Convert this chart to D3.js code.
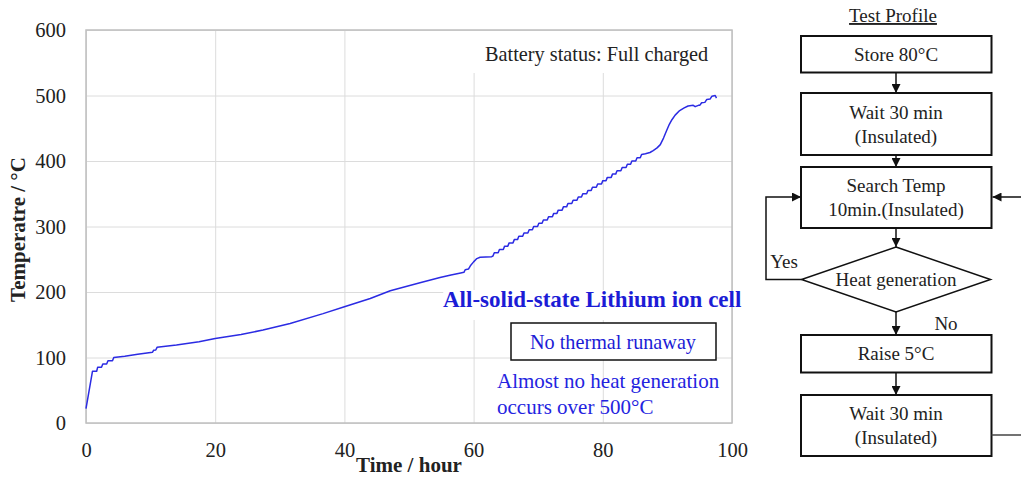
<!DOCTYPE html>
<html>
<head>
<meta charset="utf-8">
<script src="https://cdn.jsdelivr.net/npm/d3@7"></script>
<style>
  body { margin: 0; background: #fff; }
  text { font-family: "Liberation Serif", "Times New Roman", serif; }
</style>
</head>
<body>
<div id="chart"></div>
<script>
// temperature log, [hour, degC]
const readings = [
    [0, 22], [1.0, 79], [1.65, 79], [1.8, 85], [2.4, 85], [2.6, 90], [3.2, 90], [3.4, 95],
    [4.1, 95], [4.3, 100], [6, 102], [8, 105], [10.3, 108], [10.45, 111], [10.8, 111.5],
    [11.0, 115.5], [14, 119], [17.5, 124], [20, 129], [24, 135], [27.4, 142], [31.6, 152],
    [36.7, 167], [40, 177.5], [44, 190], [47.1, 202], [51.7, 214], [54.8, 222], [56.5, 226],
    [58.0, 229], [58.5, 230], [58.7, 234], [59.2, 235], [59.5, 240], [60.0, 246], [60.5, 251],
    [61.0, 253], [62.8, 254], [63.0, 255],
    [63.2, 260], [63.8, 260], [64.0, 265], [64.6, 265], [64.8, 270], [65.3, 270], [65.5, 275],
    [66.1, 275], [66.3, 280], [66.8, 280], [67.0, 285], [67.6, 285], [67.8, 290], [68.4, 290],
    [68.6, 295], [69.1, 295], [69.3, 300], [69.9, 300], [70.1, 305], [70.6, 305], [70.8, 310],
    [71.4, 310], [71.6, 315], [72.2, 315], [72.4, 320], [72.9, 320], [73.1, 325], [73.7, 325],
    [73.9, 330], [74.4, 330], [74.6, 335], [75.2, 335], [75.4, 340], [76.0, 340], [76.2, 345],
    [76.7, 345], [76.9, 350], [77.5, 350], [77.7, 355], [78.2, 355], [78.4, 360], [79.0, 360],
    [79.2, 365], [79.8, 365], [80.0, 370], [80.5, 370], [80.7, 375], [81.3, 375], [81.5, 380],
    [82.0, 380], [82.2, 385], [82.8, 385], [83.0, 390], [83.6, 390], [83.8, 395], [84.3, 395],
    [84.5, 400], [85.1, 400], [85.3, 405], [85.8, 405], [86.0, 410], [86.6, 411],
    [87.3, 413], [87.8, 416], [88.4, 420], [88.9, 425], [89.4, 435], [89.9, 447], [90.3, 456],
    [90.7, 463], [91.2, 470], [91.9, 477], [92.6, 481], [93.2, 484], [94.0, 485], [94.3, 483],
    [94.8, 485], [95.0, 485], [95.3, 489], [95.8, 489.5], [96.1, 494], [96.6, 494.5],
    [96.9, 499], [97.4, 500], [97.6, 496]
];

const xTicks = [0, 20, 40, 60, 80, 100];
const yTicks = [0, 100, 200, 300, 400, 500, 600];

const statusLabel = "Battery status: Full charged";
const cellLabel = "All-solid-state Lithium ion cell";
const resultLabel = "No thermal runaway";
const noteLines = ["Almost no heat generation", "occurs over 500\u00B0C"];

const flowTitle = "Test Profile";
const flowBoxes = [
    ["Store 80\u00B0C"],
    ["Wait 30 min", "(Insulated)"],
    ["Search Temp", "10min.(Insulated)"],
    ["Raise 5\u00B0C"],
    ["Wait 30 min", "(Insulated)"]
];
const decisionLabel = "Heat generation";

const W = 1021, H = 477;
const svg = d3.select("#chart").append("svg")
    .attr("width", W)
    .attr("height", H);

// ---------- line chart ----------
const margin = { top: 30, left: 86 };
const width = 646, height = 393;
const blue = "#1c1cd6";

const g = svg.append("g")
    .attr("transform", `translate(${margin.left}, ${margin.top})`);

const x = d3.scaleLinear().domain([0, 100]).range([0, width]);
const y = d3.scaleLinear().domain([0, 600]).range([height, 0]);

// grid
g.append("g")
    .attr("transform", `translate(0, ${height})`)
    .call(d3.axisBottom(x).tickValues(xTicks).tickSize(-height).tickFormat(""))
    .call(a => a.select(".domain").remove())
    .selectAll("line").attr("stroke", "#dcdcdc").attr("stroke-width", 1);
g.append("g")
    .call(d3.axisLeft(y).tickValues(yTicks).tickSize(-width).tickFormat(""))
    .call(a => a.select(".domain").remove())
    .selectAll("line").attr("stroke", "#dcdcdc").attr("stroke-width", 1);

// white backing behind the annotations
g.append("rect")
    .attr("x", x(58.5)).attr("y", 1)
    .attr("width", x(100) - x(58.5) - 1).attr("height", 42)
    .attr("fill", "#fff");
g.append("rect")
    .attr("x", x(55.3)).attr("y", y(203))
    .attr("width", x(100) - x(55.3) - 1).attr("height", 30)
    .attr("fill", "#fff");

g.append("rect")
    .attr("width", width).attr("height", height)
    .attr("fill", "none").attr("stroke", "#bfbfbf").attr("stroke-width", 1.5);

// axes labels
g.append("g")
    .attr("transform", `translate(0, ${height})`)
    .call(d3.axisBottom(x).tickValues(xTicks).tickSize(0).tickPadding(19))
    .call(a => a.select(".domain").remove())
    .selectAll("text")
    .style("font-family", "Liberation Serif").style("font-size", "20.5px").attr("fill", "#222");

g.append("g")
    .call(d3.axisLeft(y).tickValues(yTicks).tickSize(0).tickPadding(20))
    .call(a => a.select(".domain").remove())
    .selectAll("text")
    .style("font-family", "Liberation Serif").style("font-size", "20.5px").attr("fill", "#222");

g.append("text")
    .attr("transform", "rotate(-90)")
    .attr("x", -height / 2 - 3)
    .attr("y", -margin.left + 25)
    .attr("text-anchor", "middle")
    .style("font-size", "21px").style("font-weight", "bold")
    .attr("fill", "#222")
    .text("Temperatre / \u00B0C");

g.append("text")
    .attr("x", width / 2)
    .attr("y", height + 49)
    .attr("text-anchor", "middle")
    .style("font-size", "21px").style("font-weight", "bold")
    .attr("fill", "#222")
    .text("Time / hour");

// the curve
const lineGen = d3.line()
    .x(d => x(d[0]))
    .y(d => y(d[1]));

g.append("path")
    .datum(readings)
    .attr("d", lineGen)
    .attr("fill", "none")
    .attr("stroke", "#2b2be3")
    .attr("stroke-width", 1.5)
    .attr("stroke-linejoin", "round");

// annotations
g.append("text")
    .attr("x", 399).attr("y", 31)
    .style("font-size", "20.3px").attr("fill", "#222")
    .text(statusLabel);

g.append("text")
    .attr("x", 357).attr("y", 277)
    .style("font-size", "23px").style("font-weight", "bold")
    .attr("fill", blue)
    .text(cellLabel);

g.append("rect")
    .attr("x", 425).attr("y", 293)
    .attr("width", 205).attr("height", 37)
    .attr("fill", "#fff").attr("stroke", "#111").attr("stroke-width", 1.5);
g.append("text")
    .attr("x", 527).attr("y", 318.5)
    .attr("text-anchor", "middle")
    .style("font-size", "20.2px").attr("fill", blue)
    .text(resultLabel);

g.selectAll(".note")
    .data(noteLines)
    .join("text")
    .attr("class", "note")
    .attr("x", 411)
    .attr("y", (d, i) => 357.5 + i * 26)
    .style("font-size", "21px").attr("fill", "#2424e0")
    .text(d => d);

// ---------- flow chart ----------
const fc = svg.append("g");
const cx = 896, bx0 = 801, bx1 = 991.5;
const boxTops = [36, 93, 167, 335, 395];
const boxBottoms = [72.5, 155, 228, 372.5, 456];
const dia = { top: 247, bottom: 312, left: 801.5, right: 990.5 };
const fs = "19px";

svg.append("defs").append("marker")
    .attr("id", "arrow")
    .attr("viewBox", "0 0 10 10")
    .attr("refX", 10).attr("refY", 5)
    .attr("markerWidth", 9).attr("markerHeight", 9)
    .attr("markerUnits", "userSpaceOnUse")
    .attr("orient", "auto")
    .append("path")
    .attr("d", "M0,0 L10,5 L0,10 Z")
    .attr("fill", "#111");

fc.append("text")
    .attr("x", cx - 3).attr("y", 22)
    .attr("text-anchor", "middle")
    .style("font-size", fs).attr("fill", "#222")
    .attr("text-decoration", "underline")
    .text(flowTitle);

flowBoxes.forEach((lines, i) => {
    const top = boxTops[i], bot = boxBottoms[i];
    fc.append("rect")
        .attr("x", bx0).attr("y", top)
        .attr("width", bx1 - bx0).attr("height", bot - top)
        .attr("fill", "#fff").attr("stroke", "#111").attr("stroke-width", 2);
    const mid = (top + bot) / 2;
    lines.forEach((t, j) => {
        fc.append("text")
            .attr("x", cx).attr("y", mid + (j - (lines.length - 1) / 2) * 24 + 6.5)
            .attr("text-anchor", "middle")
            .style("font-size", fs).attr("fill", "#222")
            .text(t);
    });
});

const dMid = (dia.top + dia.bottom) / 2;
fc.append("path")
    .attr("d", `M${cx},${dia.top} L${dia.right},${dMid} L${cx},${dia.bottom} L${dia.left},${dMid} Z`)
    .attr("fill", "#fff").attr("stroke", "#111").attr("stroke-width", 1.5);
fc.append("text")
    .attr("x", cx).attr("y", dMid + 6.5)
    .attr("text-anchor", "middle")
    .style("font-size", fs).attr("fill", "#222")
    .text(decisionLabel);

const arrow = (pts) => fc.append("path")
    .attr("d", d3.line()(pts))
    .attr("fill", "none").attr("stroke", "#111").attr("stroke-width", 1.5)
    .attr("marker-end", "url(#arrow)");

arrow([[cx, boxBottoms[0]], [cx, boxTops[1]]]);
arrow([[cx, boxBottoms[1]], [cx, boxTops[2]]]);
arrow([[cx, boxBottoms[2]], [cx, dia.top]]);
arrow([[cx, dia.bottom], [cx, boxTops[3]]]);
arrow([[cx, boxBottoms[3]], [cx, boxTops[4]]]);
arrow([[dia.left, dMid], [766, dMid], [766, 197], [bx0, 197]]);
arrow([[1030, 435], [1030, 197], [bx1 + 1, 197]]);
fc.append("line")
    .attr("x1", bx1).attr("x2", 1030).attr("y1", 435).attr("y2", 435)
    .attr("stroke", "#444").attr("stroke-width", 1.5);

fc.append("text")
    .attr("x", 784).attr("y", 268)
    .attr("text-anchor", "middle")
    .style("font-size", fs).attr("fill", "#222")
    .text("Yes");
fc.append("text")
    .attr("x", 946).attr("y", 330)
    .attr("text-anchor", "middle")
    .style("font-size", fs).attr("fill", "#222")
    .text("No");
</script>
</body>
</html>
